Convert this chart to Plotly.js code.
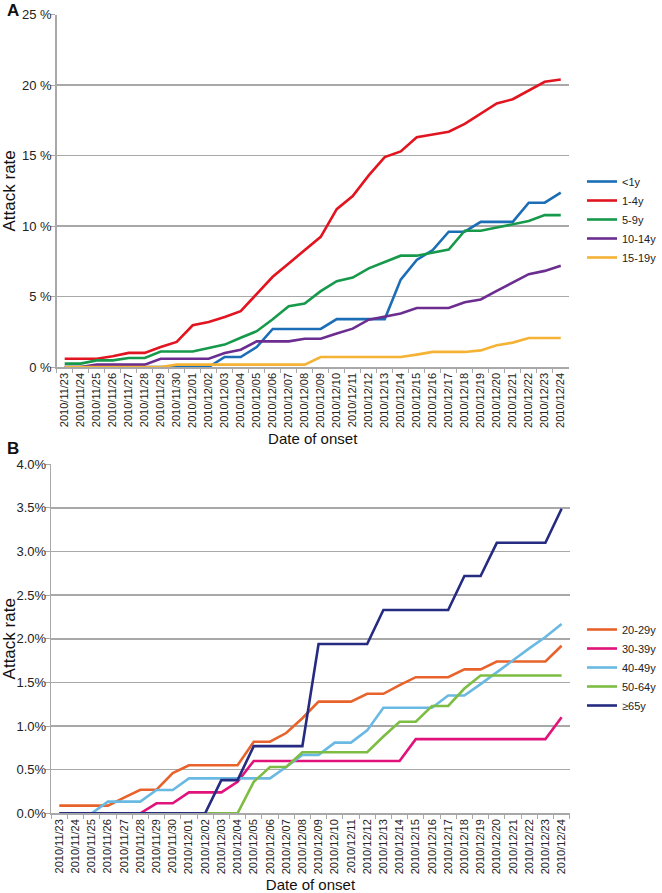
<!DOCTYPE html>
<html>
<head>
<meta charset="utf-8">
<script src="https://cdn.plot.ly/plotly-3.0.1.min.js"></script>
<style>
html,body{margin:0;padding:0;background:#fff;}
#chart{width:662px;height:893px;}
</style>
</head>
<body>
<div id="chart"></div>
<script>
const dates = ['2010/11/23','2010/11/24','2010/11/25','2010/11/26','2010/11/27','2010/11/28','2010/11/29','2010/11/30',
  '2010/12/01','2010/12/02','2010/12/03','2010/12/04','2010/12/05','2010/12/06','2010/12/07','2010/12/08',
  '2010/12/09','2010/12/10','2010/12/11','2010/12/12','2010/12/13','2010/12/14','2010/12/15','2010/12/16',
  '2010/12/17','2010/12/18','2010/12/19','2010/12/20','2010/12/21','2010/12/22','2010/12/23','2010/12/24'];

// Panel A (attack rate, %)
const namesA = ['<1y','1-4y','5-9y','10-14y','15-19y'];
const colorsA = ['#1b6db5','#e2141f','#17994b','#6b2d8f','#f5b335'];
const ageLt1 = [0,0,0,0,0,0,0,0,0,0,0.71,0.71,1.42,2.7,2.7,2.7,2.7,3.4,3.4,3.4,3.4,6.2,7.6,8.3,9.6,9.6,10.3,10.3,10.3,11.66,11.66,12.37];
const age1to4 = [0.59,0.59,0.59,0.76,1.0,1.0,1.42,1.78,2.96,3.2,3.55,3.96,5.2,6.4,7.35,8.3,9.24,11.2,12.13,13.6,14.9,15.3,16.3,16.5,16.7,17.25,18.0,18.7,19.0,19.6,20.24,20.4];
const age5to9 = [0.24,0.24,0.47,0.47,0.64,0.64,1.1,1.1,1.1,1.35,1.59,2.08,2.54,3.39,4.31,4.5,5.38,6.09,6.35,7.0,7.46,7.9,7.9,8.13,8.34,9.67,9.67,9.9,10.14,10.36,10.78,10.78];
const age10to14 = [0,0,0.17,0.17,0.17,0.17,0.59,0.59,0.59,0.59,1.0,1.23,1.82,1.82,1.82,2.0,2.0,2.37,2.72,3.36,3.6,3.79,4.19,4.19,4.19,4.6,4.79,5.4,5.97,6.59,6.82,7.18];
const age15to19 = [0,0,0,0,0,0,0,0.17,0.17,0.17,0.17,0.17,0.17,0.17,0.17,0.17,0.71,0.71,0.71,0.71,0.71,0.71,0.88,1.07,1.07,1.07,1.18,1.54,1.73,2.06,2.06,2.06];
const seriesA = [ageLt1, age1to4, age5to9, age10to14, age15to19];
const ticksA = [0,5,10,15,20,25];

// Panel B (attack rate, %)
const namesB = ['20-29y','30-39y','40-49y','50-64y','\u226565y'];
const colorsB = ['#e8632b','#e2127c','#6ab9e2','#7ebd44','#252b80'];
const age20to29 = [0.088,0.088,0.088,0.088,0.18,0.27,0.27,0.46,0.55,0.55,0.55,0.55,0.82,0.82,0.92,1.09,1.28,1.28,1.28,1.37,1.37,1.47,1.56,1.56,1.56,1.65,1.65,1.74,1.74,1.74,1.74,1.92];
const age30to39 = [0,0,0,0,0,0,0.115,0.115,0.24,0.24,0.24,0.36,0.6,0.6,0.6,0.6,0.6,0.6,0.6,0.6,0.6,0.6,0.85,0.85,0.85,0.85,0.85,0.85,0.85,0.85,0.85,1.1];
const age40to49 = [0,0,0,0.134,0.134,0.134,0.267,0.267,0.4,0.4,0.4,0.4,0.4,0.4,0.53,0.67,0.67,0.81,0.81,0.95,1.21,1.21,1.21,1.21,1.35,1.35,1.48,1.62,1.75,1.89,2.02,2.17];
const age50to64 = [0,0,0,0,0,0,0,0,0,0,0,0,0.36,0.53,0.53,0.7,0.7,0.7,0.7,0.7,0.88,1.05,1.05,1.23,1.23,1.43,1.58,1.58,1.58,1.58,1.58,1.58];
const age65plus = [0,0,0,0,0,0,0,0,0,0,0.38,0.38,0.77,0.77,0.77,0.77,1.94,1.94,1.94,1.94,2.33,2.33,2.33,2.33,2.33,2.72,2.72,3.1,3.1,3.1,3.1,3.49];
const seriesB = [age20to29, age30to39, age40to49, age50to64, age65plus];
const ticksB = [0,0.5,1,1.5,2,2.5,3,3.5,4];

const FONT = 'Liberation Sans, Arial, sans-serif';
const GRID = '#a8a8a8';

const traces = [];
seriesA.forEach((s, i) => traces.push({
  x: dates, y: s, type: 'scatter', mode: 'lines', name: namesA[i],
  line: {color: colorsA[i], width: 2.6}, xaxis: 'x', yaxis: 'y', legend: 'legend'
}));
seriesB.forEach((s, i) => traces.push({
  x: dates, y: s, type: 'scatter', mode: 'lines', name: namesB[i],
  line: {color: colorsB[i], width: 2.6}, xaxis: 'x2', yaxis: 'y2', legend: 'legend2'
}));

function xAxis(domain, anchor) {
  return {
    domain: domain, anchor: anchor, type: 'category',
    range: [-0.5, dates.length - 0.5],
    tickangle: -90, tickson: 'boundaries', ticks: 'outside', ticklen: 4,
    tickcolor: GRID, tickwidth: 1, showgrid: false,
    showline: true, linecolor: GRID, linewidth: 1.5,
    tickfont: {family: FONT, size: 11, color: '#222'},
    title: {text: 'Date of onset', font: {family: FONT, size: 15, color: '#111'}, standoff: 6},
    automargin: false, fixedrange: true
  };
}
function yAxis(domain, anchor, range, ticks, fmt) {
  return {
    domain: domain, anchor: anchor, range: range,
    tickmode: 'array', tickvals: ticks, ticktext: ticks.map(fmt),
    ticks: 'outside', ticklen: 5, tickcolor: GRID, tickwidth: 1,
    ticklabelstandoff: -4,
    showgrid: true, gridcolor: GRID, gridwidth: 1.5, zeroline: false,
    showline: true, linecolor: GRID, linewidth: 1.5,
    tickfont: {family: FONT, size: 13, color: '#222'},
    title: {text: 'Attack rate', font: {family: FONT, size: 17, color: '#111'}, standoff: 4},
    automargin: false, fixedrange: true
  };
}

const legendBase = {
  xanchor: 'left', yanchor: 'top',
  font: {family: FONT, size: 11, color: '#222'}, bgcolor: 'rgba(0,0,0,0)',
  itemwidth: 30, tracegroupgap: 0, borderwidth: 0
};

const layout = {
  width: 662, height: 893,
  margin: {l: 0, r: 0, t: 0, b: 0},
  paper_bgcolor: '#fff', plot_bgcolor: '#fff',
  font: {family: FONT, color: '#111'},
  xaxis: xAxis([59/662, 592/662], 'y'),
  yaxis: yAxis([1 - 367/893, 1 - 14.7/893], 'x', [0, 25], ticksA, v => v + ' %'),
  xaxis2: xAxis([53.3/662, 593/662], 'y2'),
  yaxis2: yAxis([1 - 813.3/893, 1 - 464.3/893], 'x2', [0, 4], ticksB, v => v.toFixed(1) + '%'),
  legend: Object.assign({}, legendBase, {x: 606/662, y: 1 - 167/893}),
  legend2: Object.assign({}, legendBase, {x: 606/662, y: 1 - 615/893}),
  showlegend: true,
  annotations: [
    {text: '<b>A</b>', xref: 'paper', yref: 'paper', x: 14/662, y: 1 - 10/893, xanchor: 'center', yanchor: 'middle',
     showarrow: false, font: {family: FONT, size: 17, color: '#111'}},
    {text: '<b>B</b>', xref: 'paper', yref: 'paper', x: 14/662, y: 1 - 448/893, xanchor: 'center', yanchor: 'middle',
     showarrow: false, font: {family: FONT, size: 17, color: '#111'}}
  ]
};

Plotly.newPlot('chart', traces, layout, {displayModeBar: false, staticPlot: true});
</script>
</body>
</html>
